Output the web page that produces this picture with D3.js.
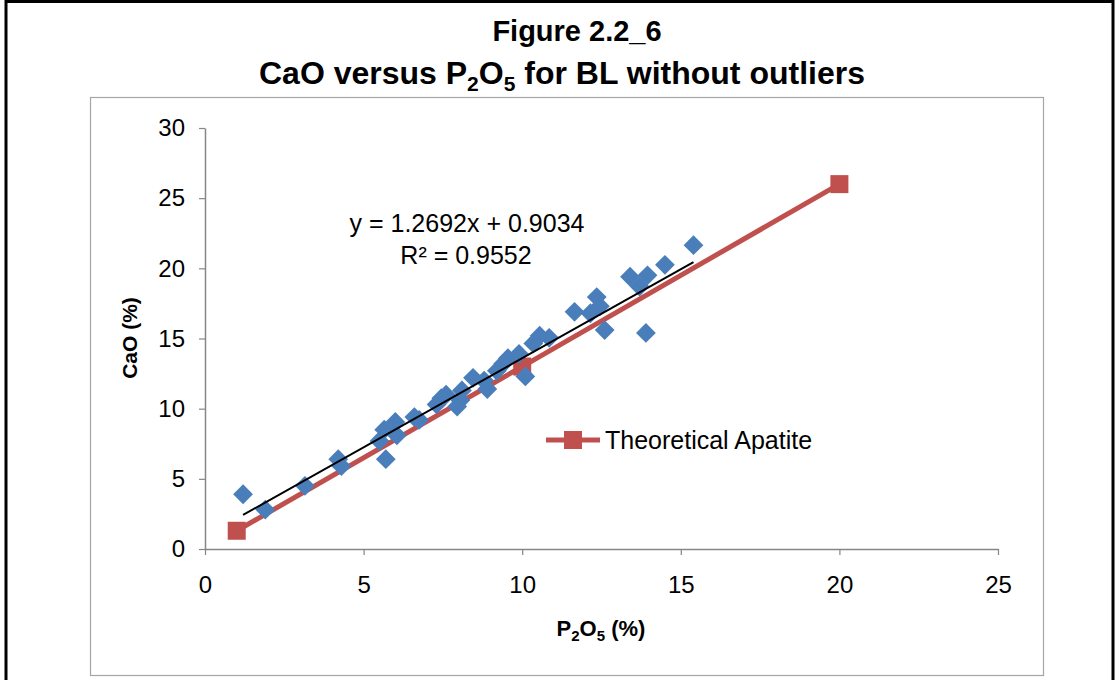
<!DOCTYPE html>
<html><head><meta charset="utf-8">
<script src="https://cdn.jsdelivr.net/npm/d3@7"></script>
<style>
html,body{margin:0;padding:0;background:#fff;}
svg{display:block;}
</style></head>
<body>
<svg id="chart" width="1118" height="680"></svg>
<script>
// ---- data ----
const p2o5 = [1.2,1.9,3.15,4.2,4.3,5.5,5.65,5.7,6.0,6.05,6.6,6.75,7.3,7.45,7.6,7.95,8.05,8.1,8.45,8.8,8.9,9.2,9.4,9.55,9.9,10.1,10.35,10.55,10.85,11.65,12.15,12.35,12.45,12.6,13.4,13.7,13.95,13.9,14.5,15.4];
const cao  = [3.9,2.8,4.5,6.4,5.9,7.7,8.5,6.4,9.05,8.1,9.4,9.2,10.3,10.75,11.0,10.15,10.6,11.3,12.2,12.0,11.4,12.7,13.2,13.6,13.9,12.3,14.65,15.2,15.05,16.9,16.8,17.95,17.3,15.6,19.4,18.7,19.5,15.4,20.25,21.65];
const apatiteX = [1,10,20];
const apatiteY = [1.3,13,26];
const trendSlope = 1.2692, trendIntercept = 0.9034;
const xTicks = [0,5,10,15,20,25];
const yTicks = [0,5,10,15,20,25,30];
const seriesName = "Theoretical Apatite";
const eqText = "y = 1.2692x + 0.9034";
const r2Text = "R\u00B2 = 0.9552";

const svg = d3.select("#chart");
const sans = "'Liberation Sans',Arial,sans-serif";
const blue = "#4a7ebb", red = "#c0504d", axisGray = "#868686";

// outer border
svg.append("rect").attr("x",6).attr("y",1.5).attr("width",1107).attr("height",720)
  .attr("fill","none").attr("stroke","#000").attr("stroke-width",3);
// inner chart box
svg.append("rect").attr("x",90.5).attr("y",97.5).attr("width",953).attr("height",578)
  .attr("fill","#fff").attr("stroke","#a6a6a6").attr("stroke-width",1.2);

// titles
svg.append("text").attr("x",577).attr("y",41).attr("text-anchor","middle")
  .attr("font-family",sans).attr("font-weight","bold").attr("font-size",29)
  .text("Figure 2.2_6");
const t2 = svg.append("text").attr("x",562).attr("y",84).attr("text-anchor","middle")
  .attr("font-family",sans).attr("font-weight","bold").attr("font-size",32);
t2.append("tspan").text("CaO versus P");
t2.append("tspan").attr("font-size",21).attr("dy",7).text("2");
t2.append("tspan").attr("dy",-7).text("O");
t2.append("tspan").attr("font-size",21).attr("dy",7).text("5");
t2.append("tspan").attr("dy",-7).text(" for BL without outliers");

// scales
const x = d3.scaleLinear().domain([0,25]).range([205,998]);
const y = d3.scaleLinear().domain([0,30]).range([549,128]);

// axes
const xAxis = svg.append("g").attr("transform","translate(0,549)")
  .call(d3.axisBottom(x).tickValues(xTicks).tickSize(6).tickSizeOuter(0).tickPadding(21).tickFormat(d3.format("d")));
const yAxis = svg.append("g").attr("transform","translate(205,0)")
  .call(d3.axisLeft(y).tickValues(yTicks).tickSize(6).tickSizeOuter(0).tickPadding(14).tickFormat(d3.format("d")));
[xAxis,yAxis].forEach(g=>{
  g.select(".domain").attr("stroke",axisGray).attr("stroke-width",1.5);
  g.selectAll(".tick line").attr("stroke",axisGray).attr("stroke-width",1.2);
  g.selectAll(".tick text").attr("fill","#000").attr("font-family",sans).attr("font-size",24);
});

// axis titles
const xt = svg.append("text").attr("x",601).attr("y",636).attr("text-anchor","middle")
  .attr("font-family",sans).attr("font-weight","bold").attr("font-size",22);
xt.append("tspan").text("P");
xt.append("tspan").attr("font-size",15).attr("dy",5).text("2");
xt.append("tspan").attr("dy",-5).text("O");
xt.append("tspan").attr("font-size",15).attr("dy",5).text("5");
xt.append("tspan").attr("dy",-5).text(" (%)");
svg.append("text").attr("transform","translate(137,338) rotate(-90)").attr("text-anchor","middle")
  .attr("font-family",sans).attr("font-weight","bold").attr("font-size",21).text("CaO (%)");

// theoretical apatite line (behind the samples)
const ap = apatiteX.map((v,i)=>({x:v,y:apatiteY[i]}));
svg.append("path").datum(ap).attr("fill","none").attr("stroke",red).attr("stroke-width",5)
  .attr("d",d3.line().x(d=>x(d.x)).y(d=>y(d.y)));
svg.append("g").selectAll("rect").data(ap).join("rect")
  .attr("x",d=>x(d.x)-9).attr("y",d=>y(d.y)-9).attr("width",18).attr("height",18).attr("fill",red);

// blue diamonds
const pts = p2o5.map((v,i)=>({x:v,y:cao[i]}));
svg.append("g").selectAll("path").data(pts).join("path")
  .attr("transform",d=>`translate(${x(d.x)},${y(d.y)}) rotate(45)`)
  .attr("d","M-7,-7H7V7H-7Z").attr("fill",blue);

// trendline
const xmin = d3.min(p2o5), xmax = d3.max(p2o5);
svg.append("line").attr("x1",x(xmin)).attr("y1",y(trendSlope*xmin+trendIntercept))
  .attr("x2",x(xmax)).attr("y2",y(trendSlope*xmax+trendIntercept))
  .attr("stroke","#000").attr("stroke-width",2);

// equation
svg.append("text").attr("x",467).attr("y",232).attr("text-anchor","middle")
  .attr("font-family",sans).attr("font-size",25).text(eqText);
svg.append("text").attr("x",466).attr("y",264).attr("text-anchor","middle")
  .attr("font-family",sans).attr("font-size",25).text(r2Text);

// legend
svg.append("line").attr("x1",546).attr("x2",600).attr("y1",440).attr("y2",440)
  .attr("stroke",red).attr("stroke-width",5);
svg.append("rect").attr("x",564).attr("y",431).attr("width",18).attr("height",18).attr("fill",red);
svg.append("text").attr("x",605).attr("y",449).attr("font-family",sans).attr("font-size",25).text(seriesName);
</script>
</body></html>
